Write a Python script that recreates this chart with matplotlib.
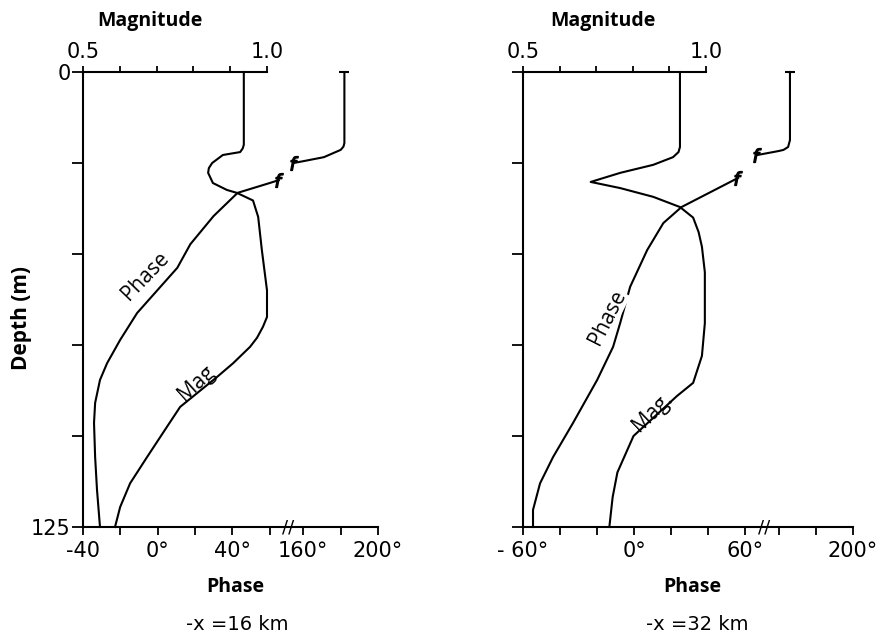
import numpy as np
import matplotlib
matplotlib.use("Agg")
import matplotlib.pyplot as plt

# ---------------- data ----------------
# Left panel: -x = 16 km
L_mag_depth = [0, 20, 21, 22, 22.8, 25, 26.4, 27.7, 30.5, 32.4, 33.2, 35.3, 39.8, 48.9, 60,
               67.3, 70, 73, 75.5, 80, 83.8, 92, 97.5, 105.8, 113, 119.5, 125]
L_mag = [0.937, 0.937, 0.934, 0.927, 0.88, 0.851, 0.842, 0.84, 0.853, 0.891, 0.918, 0.962,
         0.976, 0.986, 1.0, 1.0, 0.989, 0.973, 0.954, 0.908, 0.864, 0.764, 0.728, 0.674,
         0.628, 0.601, 0.587]
L_phase_up_depth = [0, 19.5, 20.5, 21.4, 23.4, 24.5, 25]
L_phase_up = [182, 182, 181.5, 180, 171, 160, 131]
L_phase_lo_depth = [29.7, 30.5, 33.2, 39.6, 47.3, 53.8, 66.2, 73.6, 80, 84.6, 90.9, 96.4,
                    105.8, 114.8, 125]
L_phase_lo = [87, 60, 42.8, 29.9, 17.5, 10.5, -11, -20.1, -27.1, -30.9, -33.5, -34.1,
              -33.5, -32.5, -30.9]

# Right panel: -x = 32 km
R_mag_depth = [0, 20.6, 22, 23.4, 25.5, 27.7, 30.2, 31.9, 34.3, 37.1, 40, 44, 48, 55, 69,
               78, 85.4, 89, 100, 110, 116.8, 125]
R_mag = [0.929, 0.929, 0.925, 0.910, 0.856, 0.766, 0.685, 0.766, 0.856, 0.929, 0.965,
         0.980, 0.989, 0.997, 0.997, 0.989, 0.965, 0.921, 0.802, 0.758, 0.745, 0.736]
R_phase_up_depth = [0, 18.7, 20.6, 21.4, 21.7, 22.8]
R_phase_up = [166, 166, 165, 162.5, 160, 96]
R_phase_lo_depth = [29.1, 37.1, 41.5, 48.9, 59, 69, 75.5, 84.6, 96.4, 105.8, 113, 120.3, 125]
R_phase_lo = [56, 25.5, 15.7, 7, -2.2, -7.6, -11.4, -20, -33, -43.8, -50.8, -54.6, -54.6]

depth_ticks = [0, 25, 50, 75, 100, 125]
depth_labels = ["0", "", "", "", "", "125"]

L_phase_major = [-40, 0, 40, 160, 200]
L_phase_major_lbl = ["-40", "0°", "40°", "160°", "200°"]
L_phase_minor = [-20, 20, 60, 180]
R_phase_major = [-60, 0, 60, 200]
R_phase_major_lbl = ["- 60°", "0°", "60°", "200°"]
R_phase_minor = [-40, -20, 20, 40, 160, 180]

mag_major = [0.5, 1.0]
mag_major_lbl = ["0.5", "1.0"]
mag_minor = [0.6, 0.7, 0.8, 0.9]

# ---------------- broken phase scale ----------------
GAP = 18.0


def fwd(v):
    v = np.asarray(v, float)
    return np.where(v <= 60, v, np.where(v >= 160, v - 100 + GAP, 60 + (v - 60) * GAP / 100))


def inv(u):
    u = np.asarray(u, float)
    return np.where(u <= 60, u, np.where(u >= 60 + GAP, u + 100 - GAP, 60 + (u - 60) * 100 / GAP))


NUMF = "DejaVu Sans"
WORDF = "Open Sans"
LW = 1.5

W, H = 882, 633
fig = plt.figure(figsize=(W / 100, H / 100), dpi=100)


def px_axes(x0, y0, x1, y1):
    return fig.add_axes([x0 / W, 1 - y1 / H, (x1 - x0) / W, (y1 - y0) / H])


def setup(ax, xlim, maglim, majors, major_lbl, minors, show_y):
    ax.set_xscale("function", functions=(fwd, inv))
    ax.set_xlim(*xlim)
    ax.set_ylim(125, 0)
    for s in ("top", "right"):
        ax.spines[s].set_visible(False)
    for s in ("left", "bottom"):
        ax.spines[s].set_linewidth(LW)
    ax.set_xticks(majors)
    ax.set_xticklabels(major_lbl, fontfamily=NUMF, fontsize=15)
    ax.set_xticks(minors, minor=True)
    ax.tick_params(axis="x", which="both", direction="out", length=6, width=1.3, pad=4)
    ax.set_yticks(depth_ticks)
    ax.set_yticklabels(depth_labels if show_y else [""] * 6, fontfamily=NUMF, fontsize=15)
    ax.tick_params(axis="y", which="both", direction="out", length=8, width=1.3, pad=1)

    tw = ax.twiny()
    tw.set_xlim(*maglim)
    for s in ("left", "right", "bottom"):
        tw.spines[s].set_visible(False)
    tw.spines["top"].set_linewidth(LW)
    tw.spines["top"].set_bounds(0.5, 1.0)
    tw.set_xticks(mag_major)
    tw.set_xticklabels(mag_major_lbl, fontfamily=NUMF, fontsize=15)
    tw.set_xticks(mag_minor, minor=True)
    tw.tick_params(axis="x", which="both", direction="out", length=4, width=1.3, pad=3)
    # break mark on the phase axis
    ax.text(115, 125, "//", ha="center", va="center", fontsize=13, fontfamily=NUMF,
            clip_on=False, zorder=5)
    return tw


def draw(ax, tw, mag_d, mag, up_d, up, lo_d, lo):
    tw.plot(mag, mag_d, color="black", lw=LW, solid_joinstyle="round", clip_on=False)
    ax.plot(up, up_d, color="black", lw=LW, solid_joinstyle="round", clip_on=False)
    ax.plot(lo, lo_d, color="black", lw=LW, solid_joinstyle="round", clip_on=False)
    # top tick on the upper phase branch
    ax.plot(up[0], up_d[0], marker="_", ms=7, mew=1.5, color="black", clip_on=False)
    # break symbols at the ends of the phase branches
    ax.plot(up[-1], up_d[-1], marker=r"$f$", ms=10, color="black", clip_on=False)
    ax.plot(lo[0], lo_d[0], marker=r"$f$", ms=10, color="black", clip_on=False)


axL = px_axes(83, 72, 378, 527)
twL = setup(axL, (-40, 200), (0.5, 0.5 + 295 / 368), L_phase_major, L_phase_major_lbl,
            L_phase_minor, True)
draw(axL, twL, L_mag_depth, L_mag, L_phase_up_depth, L_phase_up, L_phase_lo_depth, L_phase_lo)

axR = px_axes(523, 72, 853, 527)
twR = setup(axR, (-60, 200), (0.5, 0.5 + 331 / 367), R_phase_major, R_phase_major_lbl,
            R_phase_minor, False)
draw(axR, twR, R_mag_depth, R_mag, R_phase_up_depth, R_phase_up, R_phase_lo_depth, R_phase_lo)

# curve labels
lbl_kw = dict(ha="center", va="center", rotation_mode="anchor", fontfamily=WORDF,
              fontsize=15, bbox=dict(facecolor="white", edgecolor="none", pad=0.3), zorder=6)
axL.text(-6.5, 56.0, "Phase", rotation=46, **lbl_kw)
axL.text(21.0, 85.5, "Mag", rotation=42, **lbl_kw)
axR.text(-14.5, 67.5, "Phase", rotation=63, **lbl_kw)
axR.text(10.0, 93.5, "Mag.", rotation=44, **lbl_kw)


def ftext(x, y, s, **kw):
    fig.text(x / W, 1 - y / H, s, ha="center", va="center", **kw)


word_kw = dict(fontfamily=WORDF, fontsize=14, fontweight="bold")
ftext(150, 21, "Magnitude", **word_kw)
ftext(603, 21, "Magnitude", **word_kw)
ftext(235, 587, "Phase", **word_kw)
ftext(692, 587, "Phase", **word_kw)
ftext(22, 318, "Depth (m)", rotation=90, fontfamily=WORDF, fontsize=15, fontweight="bold")
ftext(237, 625, "-x =16 km", fontfamily=NUMF, fontsize=14)
ftext(697, 625, "-x =32 km", fontfamily=NUMF, fontsize=14)

fig.savefig("out.png", dpi=100)
